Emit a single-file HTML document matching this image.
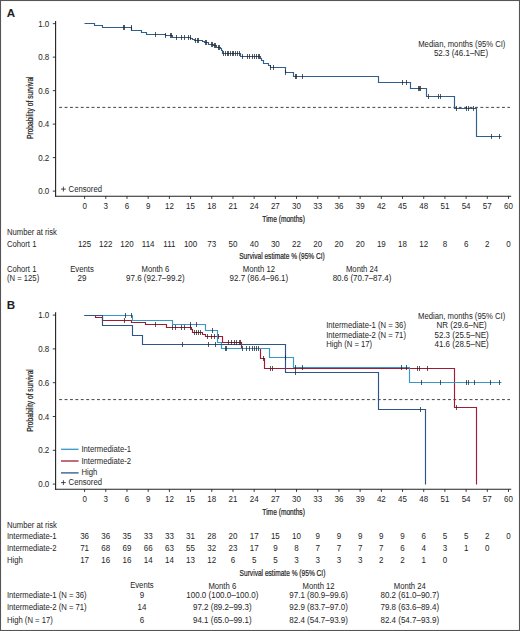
<!DOCTYPE html>
<html><head><meta charset="utf-8"><title>Survival</title>
<style>
html,body{margin:0;padding:0;background:#fff;}
body{width:520px;height:631px;overflow:hidden;}
svg{display:block;font-family:"Liberation Sans", sans-serif;fill:#222;}
svg text{fill:#1e1e1e;}
svg text.ct{stroke:#1e1e1e;stroke-width:0.22px;}
</style></head><body>
<svg width="520" height="631" viewBox="0 0 520 631">
<rect x="0" y="0" width="520" height="631" fill="#fff"/>
<rect x="0.5" y="0.5" width="519" height="630" fill="none" stroke="#555" stroke-width="1.1"/>
<text x="6.8" y="16.8" font-size="11.6" text-anchor="start" font-weight="bold">A</text>
<line x1="55.6" y1="21" x2="55.6" y2="196.7" stroke="#222" stroke-width="1.1" />
<line x1="55.1" y1="196.2" x2="511.2" y2="196.2" stroke="#222" stroke-width="1.1" />
<line x1="52.8" y1="23.65" x2="55.6" y2="23.65" stroke="#222" stroke-width="0.9" />
<text transform="translate(49.3,26.65) scale(0.9639,1)" font-size="8.3" text-anchor="end" >1.0</text>
<line x1="52.8" y1="57.14" x2="55.6" y2="57.14" stroke="#222" stroke-width="0.9" />
<text transform="translate(49.3,60.14) scale(0.9639,1)" font-size="8.3" text-anchor="end" >0.8</text>
<line x1="52.8" y1="90.63" x2="55.6" y2="90.63" stroke="#222" stroke-width="0.9" />
<text transform="translate(49.3,93.63) scale(0.9639,1)" font-size="8.3" text-anchor="end" >0.6</text>
<line x1="52.8" y1="124.12" x2="55.6" y2="124.12" stroke="#222" stroke-width="0.9" />
<text transform="translate(49.3,127.12) scale(0.9639,1)" font-size="8.3" text-anchor="end" >0.4</text>
<line x1="52.8" y1="157.61" x2="55.6" y2="157.61" stroke="#222" stroke-width="0.9" />
<text transform="translate(49.3,160.61) scale(0.9639,1)" font-size="8.3" text-anchor="end" >0.2</text>
<line x1="52.8" y1="191.1" x2="55.6" y2="191.1" stroke="#222" stroke-width="0.9" />
<text transform="translate(49.3,194.1) scale(0.9639,1)" font-size="8.3" text-anchor="end" >0.0</text>
<line x1="84.6" y1="196.2" x2="84.6" y2="198.9" stroke="#222" stroke-width="0.9" />
<text transform="translate(84.6,208.6) scale(0.9639,1)" font-size="8.3" text-anchor="middle" >0</text>
<line x1="105.79" y1="196.2" x2="105.79" y2="198.9" stroke="#222" stroke-width="0.9" />
<text transform="translate(105.79,208.6) scale(0.9639,1)" font-size="8.3" text-anchor="middle" >3</text>
<line x1="126.99" y1="196.2" x2="126.99" y2="198.9" stroke="#222" stroke-width="0.9" />
<text transform="translate(126.99,208.6) scale(0.9639,1)" font-size="8.3" text-anchor="middle" >6</text>
<line x1="148.19" y1="196.2" x2="148.19" y2="198.9" stroke="#222" stroke-width="0.9" />
<text transform="translate(148.19,208.6) scale(0.9639,1)" font-size="8.3" text-anchor="middle" >9</text>
<line x1="169.38" y1="196.2" x2="169.38" y2="198.9" stroke="#222" stroke-width="0.9" />
<text transform="translate(169.38,208.6) scale(0.9639,1)" font-size="8.3" text-anchor="middle" >12</text>
<line x1="190.57" y1="196.2" x2="190.57" y2="198.9" stroke="#222" stroke-width="0.9" />
<text transform="translate(190.57,208.6) scale(0.9639,1)" font-size="8.3" text-anchor="middle" >15</text>
<line x1="211.77" y1="196.2" x2="211.77" y2="198.9" stroke="#222" stroke-width="0.9" />
<text transform="translate(211.77,208.6) scale(0.9639,1)" font-size="8.3" text-anchor="middle" >18</text>
<line x1="232.97" y1="196.2" x2="232.97" y2="198.9" stroke="#222" stroke-width="0.9" />
<text transform="translate(232.97,208.6) scale(0.9639,1)" font-size="8.3" text-anchor="middle" >21</text>
<line x1="254.16" y1="196.2" x2="254.16" y2="198.9" stroke="#222" stroke-width="0.9" />
<text transform="translate(254.16,208.6) scale(0.9639,1)" font-size="8.3" text-anchor="middle" >24</text>
<line x1="275.36" y1="196.2" x2="275.36" y2="198.9" stroke="#222" stroke-width="0.9" />
<text transform="translate(275.36,208.6) scale(0.9639,1)" font-size="8.3" text-anchor="middle" >27</text>
<line x1="296.55" y1="196.2" x2="296.55" y2="198.9" stroke="#222" stroke-width="0.9" />
<text transform="translate(296.55,208.6) scale(0.9639,1)" font-size="8.3" text-anchor="middle" >30</text>
<line x1="317.75" y1="196.2" x2="317.75" y2="198.9" stroke="#222" stroke-width="0.9" />
<text transform="translate(317.75,208.6) scale(0.9639,1)" font-size="8.3" text-anchor="middle" >33</text>
<line x1="338.94" y1="196.2" x2="338.94" y2="198.9" stroke="#222" stroke-width="0.9" />
<text transform="translate(338.94,208.6) scale(0.9639,1)" font-size="8.3" text-anchor="middle" >36</text>
<line x1="360.13" y1="196.2" x2="360.13" y2="198.9" stroke="#222" stroke-width="0.9" />
<text transform="translate(360.13,208.6) scale(0.9639,1)" font-size="8.3" text-anchor="middle" >39</text>
<line x1="381.33" y1="196.2" x2="381.33" y2="198.9" stroke="#222" stroke-width="0.9" />
<text transform="translate(381.33,208.6) scale(0.9639,1)" font-size="8.3" text-anchor="middle" >42</text>
<line x1="402.52" y1="196.2" x2="402.52" y2="198.9" stroke="#222" stroke-width="0.9" />
<text transform="translate(402.52,208.6) scale(0.9639,1)" font-size="8.3" text-anchor="middle" >45</text>
<line x1="423.72" y1="196.2" x2="423.72" y2="198.9" stroke="#222" stroke-width="0.9" />
<text transform="translate(423.72,208.6) scale(0.9639,1)" font-size="8.3" text-anchor="middle" >48</text>
<line x1="444.91" y1="196.2" x2="444.91" y2="198.9" stroke="#222" stroke-width="0.9" />
<text transform="translate(444.91,208.6) scale(0.9639,1)" font-size="8.3" text-anchor="middle" >51</text>
<line x1="466.11" y1="196.2" x2="466.11" y2="198.9" stroke="#222" stroke-width="0.9" />
<text transform="translate(466.11,208.6) scale(0.9639,1)" font-size="8.3" text-anchor="middle" >54</text>
<line x1="487.3" y1="196.2" x2="487.3" y2="198.9" stroke="#222" stroke-width="0.9" />
<text transform="translate(487.3,208.6) scale(0.9639,1)" font-size="8.3" text-anchor="middle" >57</text>
<line x1="508.5" y1="196.2" x2="508.5" y2="198.9" stroke="#222" stroke-width="0.9" />
<text transform="translate(508.5,208.6) scale(0.9639,1)" font-size="8.3" text-anchor="middle" >60</text>
<text x="283.6" y="221.6" font-size="8.4" text-anchor="middle" textLength="42.5" lengthAdjust="spacingAndGlyphs" class="ct">Time (months)</text>
<text x="0" y="0" font-size="8.4" text-anchor="middle" textLength="62.6" lengthAdjust="spacingAndGlyphs" class="ct" transform="translate(33.2,107.7) rotate(-90)">Probability of survival</text>
<line x1="59.2" y1="107.375" x2="510" y2="107.375" stroke="#444" stroke-width="1" stroke-dasharray="2.9 2.5"/>
<path d="M84.5,23.5H94.5V25.5H102.5V27.5H131.5V30.5H141.5V32.5H146.5V34.5H165.5V35.5H172.5V37.5H190.5V38.5H192.5V39.5H194.5V40.5H202.5V41.5H204.5V42.5H208.5V44.5H213.5V45.5H216.5V47.5H220.5V48.5H221.5V50.5H222.5V53.5H240.5V56.5H260.5V58.5H261.5V60.5H263.5V63.5H268.5V65.5H270.5V67.5H285.5V72.5H293.5V76.5H378.5V82.5H410.5V88.5H426.5V96.5H454.5V108.5H476.5V136.5H501.5" fill="none" stroke="#2f5f8c" stroke-width="1.15" stroke-linejoin="miter"/>
<line x1="123.5" y1="25" x2="123.5" y2="30" stroke="#222" stroke-width="0.75" />
<line x1="124.5" y1="25" x2="124.5" y2="30" stroke="#222" stroke-width="0.75" />
<line x1="131.5" y1="25" x2="131.5" y2="30" stroke="#222" stroke-width="0.75" />
<line x1="155.5" y1="32" x2="155.5" y2="37" stroke="#222" stroke-width="0.75" />
<line x1="165.5" y1="33" x2="165.5" y2="38" stroke="#222" stroke-width="0.75" />
<line x1="170.5" y1="33" x2="170.5" y2="38" stroke="#222" stroke-width="0.75" />
<line x1="171.5" y1="33" x2="171.5" y2="38" stroke="#222" stroke-width="0.75" />
<line x1="176.5" y1="35" x2="176.5" y2="40" stroke="#222" stroke-width="0.75" />
<line x1="181.5" y1="35" x2="181.5" y2="40" stroke="#222" stroke-width="0.75" />
<line x1="184.5" y1="35" x2="184.5" y2="40" stroke="#222" stroke-width="0.75" />
<line x1="188.5" y1="35" x2="188.5" y2="40" stroke="#222" stroke-width="0.75" />
<line x1="190.5" y1="35" x2="190.5" y2="40" stroke="#222" stroke-width="0.75" />
<line x1="195.5" y1="38" x2="195.5" y2="43" stroke="#222" stroke-width="0.75" />
<line x1="197.5" y1="38" x2="197.5" y2="43" stroke="#222" stroke-width="0.75" />
<line x1="198.5" y1="38" x2="198.5" y2="43" stroke="#222" stroke-width="0.75" />
<line x1="205.5" y1="40" x2="205.5" y2="45" stroke="#222" stroke-width="0.75" />
<line x1="206.5" y1="40" x2="206.5" y2="45" stroke="#222" stroke-width="0.75" />
<line x1="211.5" y1="42" x2="211.5" y2="47" stroke="#222" stroke-width="0.75" />
<line x1="212.5" y1="42" x2="212.5" y2="47" stroke="#222" stroke-width="0.75" />
<line x1="214.5" y1="43" x2="214.5" y2="48" stroke="#222" stroke-width="0.75" />
<line x1="215.5" y1="43" x2="215.5" y2="48" stroke="#222" stroke-width="0.75" />
<line x1="218.5" y1="45" x2="218.5" y2="50" stroke="#222" stroke-width="0.75" />
<line x1="219.5" y1="45" x2="219.5" y2="50" stroke="#222" stroke-width="0.75" />
<line x1="223.5" y1="51" x2="223.5" y2="56" stroke="#222" stroke-width="0.75" />
<line x1="225.5" y1="51" x2="225.5" y2="56" stroke="#222" stroke-width="0.75" />
<line x1="227.5" y1="51" x2="227.5" y2="56" stroke="#222" stroke-width="0.75" />
<line x1="228.5" y1="51" x2="228.5" y2="56" stroke="#222" stroke-width="0.75" />
<line x1="230.5" y1="51" x2="230.5" y2="56" stroke="#222" stroke-width="0.75" />
<line x1="232.5" y1="51" x2="232.5" y2="56" stroke="#222" stroke-width="0.75" />
<line x1="233.5" y1="51" x2="233.5" y2="56" stroke="#222" stroke-width="0.75" />
<line x1="235.5" y1="51" x2="235.5" y2="56" stroke="#222" stroke-width="0.75" />
<line x1="237.5" y1="51" x2="237.5" y2="56" stroke="#222" stroke-width="0.75" />
<line x1="239.5" y1="51" x2="239.5" y2="56" stroke="#222" stroke-width="0.75" />
<line x1="242.5" y1="54" x2="242.5" y2="59" stroke="#222" stroke-width="0.75" />
<line x1="247.5" y1="54" x2="247.5" y2="59" stroke="#222" stroke-width="0.75" />
<line x1="249.5" y1="54" x2="249.5" y2="59" stroke="#222" stroke-width="0.75" />
<line x1="252.5" y1="54" x2="252.5" y2="59" stroke="#222" stroke-width="0.75" />
<line x1="254.5" y1="54" x2="254.5" y2="59" stroke="#222" stroke-width="0.75" />
<line x1="256.5" y1="54" x2="256.5" y2="59" stroke="#222" stroke-width="0.75" />
<line x1="258.5" y1="54" x2="258.5" y2="59" stroke="#222" stroke-width="0.75" />
<line x1="259.5" y1="54" x2="259.5" y2="59" stroke="#222" stroke-width="0.75" />
<line x1="270.5" y1="65" x2="270.5" y2="70" stroke="#222" stroke-width="0.75" />
<line x1="273.5" y1="65" x2="273.5" y2="70" stroke="#222" stroke-width="0.75" />
<line x1="285.5" y1="70" x2="285.5" y2="75" stroke="#222" stroke-width="0.75" />
<line x1="295.5" y1="74" x2="295.5" y2="79" stroke="#222" stroke-width="0.75" />
<line x1="296.5" y1="74" x2="296.5" y2="79" stroke="#222" stroke-width="0.75" />
<line x1="302.5" y1="74" x2="302.5" y2="79" stroke="#222" stroke-width="0.75" />
<line x1="402.5" y1="80" x2="402.5" y2="85" stroke="#222" stroke-width="0.75" />
<line x1="406.5" y1="80" x2="406.5" y2="85" stroke="#222" stroke-width="0.75" />
<line x1="418.5" y1="86" x2="418.5" y2="91" stroke="#222" stroke-width="0.75" />
<line x1="419.5" y1="86" x2="419.5" y2="91" stroke="#222" stroke-width="0.75" />
<line x1="420.5" y1="86" x2="420.5" y2="91" stroke="#222" stroke-width="0.75" />
<line x1="428.5" y1="94" x2="428.5" y2="99" stroke="#222" stroke-width="0.75" />
<line x1="438.5" y1="94" x2="438.5" y2="99" stroke="#222" stroke-width="0.75" />
<line x1="440.5" y1="94" x2="440.5" y2="99" stroke="#222" stroke-width="0.75" />
<line x1="456.5" y1="106" x2="456.5" y2="111" stroke="#222" stroke-width="0.75" />
<line x1="466.5" y1="106" x2="466.5" y2="111" stroke="#222" stroke-width="0.75" />
<line x1="468.5" y1="106" x2="468.5" y2="111" stroke="#222" stroke-width="0.75" />
<line x1="473.5" y1="106" x2="473.5" y2="111" stroke="#222" stroke-width="0.75" />
<line x1="491.5" y1="134" x2="491.5" y2="139" stroke="#222" stroke-width="0.75" />
<line x1="499.5" y1="134" x2="499.5" y2="139" stroke="#222" stroke-width="0.75" />
<line x1="61" y1="189.1" x2="65.8" y2="189.1" stroke="#222" stroke-width="0.8" />
<line x1="63.4" y1="186.7" x2="63.4" y2="191.5" stroke="#222" stroke-width="0.8" />
<text transform="translate(68.6,191.6) scale(0.9277,1)" font-size="8.3" text-anchor="start" >Censored</text>
<text transform="translate(461.8,46.9) scale(0.9277,1)" font-size="8.3" text-anchor="middle" >Median, months (95% CI)</text>
<text transform="translate(461,56.4) scale(0.9639,1)" font-size="8.3" text-anchor="middle" >52.3 (46.1–NE)</text>
<text transform="translate(6.9,234.5) scale(0.9277,1)" font-size="8.3" text-anchor="start" >Number at risk</text>
<text transform="translate(6.9,246.5) scale(0.9277,1)" font-size="8.3" text-anchor="start" >Cohort 1</text>
<text transform="translate(84.6,246.5) scale(0.9639,1)" font-size="8.3" text-anchor="middle" >125</text>
<text transform="translate(105.79,246.5) scale(0.9639,1)" font-size="8.3" text-anchor="middle" >122</text>
<text transform="translate(126.99,246.5) scale(0.9639,1)" font-size="8.3" text-anchor="middle" >120</text>
<text transform="translate(148.19,246.5) scale(0.9639,1)" font-size="8.3" text-anchor="middle" >114</text>
<text transform="translate(169.38,246.5) scale(0.9639,1)" font-size="8.3" text-anchor="middle" >111</text>
<text transform="translate(190.57,246.5) scale(0.9639,1)" font-size="8.3" text-anchor="middle" >100</text>
<text transform="translate(211.77,246.5) scale(0.9639,1)" font-size="8.3" text-anchor="middle" >73</text>
<text transform="translate(232.97,246.5) scale(0.9639,1)" font-size="8.3" text-anchor="middle" >50</text>
<text transform="translate(254.16,246.5) scale(0.9639,1)" font-size="8.3" text-anchor="middle" >40</text>
<text transform="translate(275.36,246.5) scale(0.9639,1)" font-size="8.3" text-anchor="middle" >30</text>
<text transform="translate(296.55,246.5) scale(0.9639,1)" font-size="8.3" text-anchor="middle" >22</text>
<text transform="translate(317.75,246.5) scale(0.9639,1)" font-size="8.3" text-anchor="middle" >20</text>
<text transform="translate(338.94,246.5) scale(0.9639,1)" font-size="8.3" text-anchor="middle" >20</text>
<text transform="translate(360.13,246.5) scale(0.9639,1)" font-size="8.3" text-anchor="middle" >20</text>
<text transform="translate(381.33,246.5) scale(0.9639,1)" font-size="8.3" text-anchor="middle" >19</text>
<text transform="translate(402.52,246.5) scale(0.9639,1)" font-size="8.3" text-anchor="middle" >18</text>
<text transform="translate(423.72,246.5) scale(0.9639,1)" font-size="8.3" text-anchor="middle" >12</text>
<text transform="translate(444.91,246.5) scale(0.9639,1)" font-size="8.3" text-anchor="middle" >8</text>
<text transform="translate(466.11,246.5) scale(0.9639,1)" font-size="8.3" text-anchor="middle" >6</text>
<text transform="translate(487.3,246.5) scale(0.9639,1)" font-size="8.3" text-anchor="middle" >2</text>
<text transform="translate(508.5,246.5) scale(0.9639,1)" font-size="8.3" text-anchor="middle" >0</text>
<text x="282" y="259.4" font-size="9.4" text-anchor="middle" textLength="85.6" lengthAdjust="spacingAndGlyphs" class="ct">Survival estimate % (95% CI)</text>
<text transform="translate(6.9,271.9) scale(0.9277,1)" font-size="8.3" text-anchor="start" >Cohort 1</text>
<text transform="translate(6.9,280.9) scale(0.9277,1)" font-size="8.3" text-anchor="start" >(N = 125)</text>
<text transform="translate(82,271.9) scale(0.9277,1)" font-size="8.3" text-anchor="middle" >Events</text>
<text transform="translate(82,280.9) scale(0.9639,1)" font-size="8.3" text-anchor="middle" >29</text>
<text transform="translate(155.4,271.9) scale(0.9277,1)" font-size="8.3" text-anchor="middle" >Month 6</text>
<text transform="translate(155.4,280.9) scale(0.9639,1)" font-size="8.3" text-anchor="middle" >97.6 (92.7–99.2)</text>
<text transform="translate(258.9,271.9) scale(0.9277,1)" font-size="8.3" text-anchor="middle" >Month 12</text>
<text transform="translate(258.9,280.9) scale(0.9639,1)" font-size="8.3" text-anchor="middle" >92.7 (86.4–96.1)</text>
<text transform="translate(362,271.9) scale(0.9277,1)" font-size="8.3" text-anchor="middle" >Month 24</text>
<text transform="translate(362,280.9) scale(0.9639,1)" font-size="8.3" text-anchor="middle" >80.6 (70.7–87.4)</text>
<text x="6.8" y="308.6" font-size="11.6" text-anchor="start" font-weight="bold">B</text>
<line x1="55.6" y1="312.2" x2="55.6" y2="489.7" stroke="#222" stroke-width="1.1" />
<line x1="55.1" y1="489.2" x2="511.2" y2="489.2" stroke="#222" stroke-width="1.1" />
<line x1="52.8" y1="315.1" x2="55.6" y2="315.1" stroke="#222" stroke-width="0.9" />
<text transform="translate(49.3,318.1) scale(0.9639,1)" font-size="8.3" text-anchor="end" >1.0</text>
<line x1="52.8" y1="348.9" x2="55.6" y2="348.9" stroke="#222" stroke-width="0.9" />
<text transform="translate(49.3,351.9) scale(0.9639,1)" font-size="8.3" text-anchor="end" >0.8</text>
<line x1="52.8" y1="382.7" x2="55.6" y2="382.7" stroke="#222" stroke-width="0.9" />
<text transform="translate(49.3,385.7) scale(0.9639,1)" font-size="8.3" text-anchor="end" >0.6</text>
<line x1="52.8" y1="416.5" x2="55.6" y2="416.5" stroke="#222" stroke-width="0.9" />
<text transform="translate(49.3,419.5) scale(0.9639,1)" font-size="8.3" text-anchor="end" >0.4</text>
<line x1="52.8" y1="450.3" x2="55.6" y2="450.3" stroke="#222" stroke-width="0.9" />
<text transform="translate(49.3,453.3) scale(0.9639,1)" font-size="8.3" text-anchor="end" >0.2</text>
<line x1="52.8" y1="484.1" x2="55.6" y2="484.1" stroke="#222" stroke-width="0.9" />
<text transform="translate(49.3,487.1) scale(0.9639,1)" font-size="8.3" text-anchor="end" >0.0</text>
<line x1="84.6" y1="489.2" x2="84.6" y2="491.9" stroke="#222" stroke-width="0.9" />
<text transform="translate(84.6,501.6) scale(0.9639,1)" font-size="8.3" text-anchor="middle" >0</text>
<line x1="105.79" y1="489.2" x2="105.79" y2="491.9" stroke="#222" stroke-width="0.9" />
<text transform="translate(105.79,501.6) scale(0.9639,1)" font-size="8.3" text-anchor="middle" >3</text>
<line x1="126.99" y1="489.2" x2="126.99" y2="491.9" stroke="#222" stroke-width="0.9" />
<text transform="translate(126.99,501.6) scale(0.9639,1)" font-size="8.3" text-anchor="middle" >6</text>
<line x1="148.19" y1="489.2" x2="148.19" y2="491.9" stroke="#222" stroke-width="0.9" />
<text transform="translate(148.19,501.6) scale(0.9639,1)" font-size="8.3" text-anchor="middle" >9</text>
<line x1="169.38" y1="489.2" x2="169.38" y2="491.9" stroke="#222" stroke-width="0.9" />
<text transform="translate(169.38,501.6) scale(0.9639,1)" font-size="8.3" text-anchor="middle" >12</text>
<line x1="190.57" y1="489.2" x2="190.57" y2="491.9" stroke="#222" stroke-width="0.9" />
<text transform="translate(190.57,501.6) scale(0.9639,1)" font-size="8.3" text-anchor="middle" >15</text>
<line x1="211.77" y1="489.2" x2="211.77" y2="491.9" stroke="#222" stroke-width="0.9" />
<text transform="translate(211.77,501.6) scale(0.9639,1)" font-size="8.3" text-anchor="middle" >18</text>
<line x1="232.97" y1="489.2" x2="232.97" y2="491.9" stroke="#222" stroke-width="0.9" />
<text transform="translate(232.97,501.6) scale(0.9639,1)" font-size="8.3" text-anchor="middle" >21</text>
<line x1="254.16" y1="489.2" x2="254.16" y2="491.9" stroke="#222" stroke-width="0.9" />
<text transform="translate(254.16,501.6) scale(0.9639,1)" font-size="8.3" text-anchor="middle" >24</text>
<line x1="275.36" y1="489.2" x2="275.36" y2="491.9" stroke="#222" stroke-width="0.9" />
<text transform="translate(275.36,501.6) scale(0.9639,1)" font-size="8.3" text-anchor="middle" >27</text>
<line x1="296.55" y1="489.2" x2="296.55" y2="491.9" stroke="#222" stroke-width="0.9" />
<text transform="translate(296.55,501.6) scale(0.9639,1)" font-size="8.3" text-anchor="middle" >30</text>
<line x1="317.75" y1="489.2" x2="317.75" y2="491.9" stroke="#222" stroke-width="0.9" />
<text transform="translate(317.75,501.6) scale(0.9639,1)" font-size="8.3" text-anchor="middle" >33</text>
<line x1="338.94" y1="489.2" x2="338.94" y2="491.9" stroke="#222" stroke-width="0.9" />
<text transform="translate(338.94,501.6) scale(0.9639,1)" font-size="8.3" text-anchor="middle" >36</text>
<line x1="360.13" y1="489.2" x2="360.13" y2="491.9" stroke="#222" stroke-width="0.9" />
<text transform="translate(360.13,501.6) scale(0.9639,1)" font-size="8.3" text-anchor="middle" >39</text>
<line x1="381.33" y1="489.2" x2="381.33" y2="491.9" stroke="#222" stroke-width="0.9" />
<text transform="translate(381.33,501.6) scale(0.9639,1)" font-size="8.3" text-anchor="middle" >42</text>
<line x1="402.52" y1="489.2" x2="402.52" y2="491.9" stroke="#222" stroke-width="0.9" />
<text transform="translate(402.52,501.6) scale(0.9639,1)" font-size="8.3" text-anchor="middle" >45</text>
<line x1="423.72" y1="489.2" x2="423.72" y2="491.9" stroke="#222" stroke-width="0.9" />
<text transform="translate(423.72,501.6) scale(0.9639,1)" font-size="8.3" text-anchor="middle" >48</text>
<line x1="444.91" y1="489.2" x2="444.91" y2="491.9" stroke="#222" stroke-width="0.9" />
<text transform="translate(444.91,501.6) scale(0.9639,1)" font-size="8.3" text-anchor="middle" >51</text>
<line x1="466.11" y1="489.2" x2="466.11" y2="491.9" stroke="#222" stroke-width="0.9" />
<text transform="translate(466.11,501.6) scale(0.9639,1)" font-size="8.3" text-anchor="middle" >54</text>
<line x1="487.3" y1="489.2" x2="487.3" y2="491.9" stroke="#222" stroke-width="0.9" />
<text transform="translate(487.3,501.6) scale(0.9639,1)" font-size="8.3" text-anchor="middle" >57</text>
<line x1="508.5" y1="489.2" x2="508.5" y2="491.9" stroke="#222" stroke-width="0.9" />
<text transform="translate(508.5,501.6) scale(0.9639,1)" font-size="8.3" text-anchor="middle" >60</text>
<text x="283.6" y="514.6" font-size="8.4" text-anchor="middle" textLength="42.5" lengthAdjust="spacingAndGlyphs" class="ct">Time (months)</text>
<text x="0" y="0" font-size="8.4" text-anchor="middle" textLength="62.6" lengthAdjust="spacingAndGlyphs" class="ct" transform="translate(33.2,400.5) rotate(-90)">Probability of survival</text>
<line x1="59.2" y1="399.6" x2="510" y2="399.6" stroke="#444" stroke-width="1" stroke-dasharray="2.9 2.5"/>
<path d="M84.5,315.5H95.5V317.5H102.5V320.5H131.5V322.5H145.5V324.5H166.5V327.5H191.5V329.5H192.5V332.5H202.5V334.5H205.5V336.5H222.5V342.5H241.5V348.5H260.5V358.5H264.5V368.5H454.5V407.5H476.5V484.5H476.5" fill="none" stroke="#a31a34" stroke-width="1.15" stroke-linejoin="miter"/>
<path d="M84.5,315.5H132.5V320.5H172.5V324.5H205.5V330.5H217.5V342.5H221.5V348.5H269.5V357.5H293.5V367.5H409.5V382.5H501.5" fill="none" stroke="#3599cb" stroke-width="1.15" stroke-linejoin="miter"/>
<path d="M84.5,315.5H102.5V325.5H132.5V335.5H142.5V344.5H285.5V372.5H378.5V409.5H425.5V484.5H425.5" fill="none" stroke="#2c5689" stroke-width="1.15" stroke-linejoin="miter"/>
<line x1="125.5" y1="313" x2="125.5" y2="318" stroke="#222" stroke-width="0.75" />
<line x1="131.5" y1="313" x2="131.5" y2="318" stroke="#222" stroke-width="0.75" />
<line x1="190.5" y1="322" x2="190.5" y2="327" stroke="#222" stroke-width="0.75" />
<line x1="196.5" y1="322" x2="196.5" y2="327" stroke="#222" stroke-width="0.75" />
<line x1="212.5" y1="328" x2="212.5" y2="333" stroke="#222" stroke-width="0.75" />
<line x1="225.5" y1="346" x2="225.5" y2="351" stroke="#222" stroke-width="0.75" />
<line x1="226.5" y1="346" x2="226.5" y2="351" stroke="#222" stroke-width="0.75" />
<line x1="242.5" y1="346" x2="242.5" y2="351" stroke="#222" stroke-width="0.75" />
<line x1="246.5" y1="346" x2="246.5" y2="351" stroke="#222" stroke-width="0.75" />
<line x1="249.5" y1="346" x2="249.5" y2="351" stroke="#222" stroke-width="0.75" />
<line x1="252.5" y1="346" x2="252.5" y2="351" stroke="#222" stroke-width="0.75" />
<line x1="254.5" y1="346" x2="254.5" y2="351" stroke="#222" stroke-width="0.75" />
<line x1="256.5" y1="346" x2="256.5" y2="351" stroke="#222" stroke-width="0.75" />
<line x1="258.5" y1="346" x2="258.5" y2="351" stroke="#222" stroke-width="0.75" />
<line x1="285.5" y1="355" x2="285.5" y2="360" stroke="#222" stroke-width="0.75" />
<line x1="295.5" y1="365" x2="295.5" y2="370" stroke="#222" stroke-width="0.75" />
<line x1="302.5" y1="365" x2="302.5" y2="370" stroke="#222" stroke-width="0.75" />
<line x1="401.5" y1="365" x2="401.5" y2="370" stroke="#222" stroke-width="0.75" />
<line x1="406.5" y1="365" x2="406.5" y2="370" stroke="#222" stroke-width="0.75" />
<line x1="421.5" y1="380" x2="421.5" y2="385" stroke="#222" stroke-width="0.75" />
<line x1="440.5" y1="380" x2="440.5" y2="385" stroke="#222" stroke-width="0.75" />
<line x1="466.5" y1="380" x2="466.5" y2="385" stroke="#222" stroke-width="0.75" />
<line x1="468.5" y1="380" x2="468.5" y2="385" stroke="#222" stroke-width="0.75" />
<line x1="474.5" y1="380" x2="474.5" y2="385" stroke="#222" stroke-width="0.75" />
<line x1="490.5" y1="380" x2="490.5" y2="385" stroke="#222" stroke-width="0.75" />
<line x1="499.5" y1="380" x2="499.5" y2="385" stroke="#222" stroke-width="0.75" />
<line x1="124.5" y1="318" x2="124.5" y2="323" stroke="#222" stroke-width="0.75" />
<line x1="155.5" y1="322" x2="155.5" y2="327" stroke="#222" stroke-width="0.75" />
<line x1="172.5" y1="325" x2="172.5" y2="330" stroke="#222" stroke-width="0.75" />
<line x1="175.5" y1="325" x2="175.5" y2="330" stroke="#222" stroke-width="0.75" />
<line x1="181.5" y1="325" x2="181.5" y2="330" stroke="#222" stroke-width="0.75" />
<line x1="184.5" y1="325" x2="184.5" y2="330" stroke="#222" stroke-width="0.75" />
<line x1="190.5" y1="325" x2="190.5" y2="330" stroke="#222" stroke-width="0.75" />
<line x1="194.5" y1="330" x2="194.5" y2="335" stroke="#222" stroke-width="0.75" />
<line x1="196.5" y1="330" x2="196.5" y2="335" stroke="#222" stroke-width="0.75" />
<line x1="198.5" y1="330" x2="198.5" y2="335" stroke="#222" stroke-width="0.75" />
<line x1="200.5" y1="330" x2="200.5" y2="335" stroke="#222" stroke-width="0.75" />
<line x1="207.5" y1="334" x2="207.5" y2="339" stroke="#222" stroke-width="0.75" />
<line x1="211.5" y1="334" x2="211.5" y2="339" stroke="#222" stroke-width="0.75" />
<line x1="214.5" y1="334" x2="214.5" y2="339" stroke="#222" stroke-width="0.75" />
<line x1="218.5" y1="334" x2="218.5" y2="339" stroke="#222" stroke-width="0.75" />
<line x1="228.5" y1="340" x2="228.5" y2="345" stroke="#222" stroke-width="0.75" />
<line x1="231.5" y1="340" x2="231.5" y2="345" stroke="#222" stroke-width="0.75" />
<line x1="234.5" y1="340" x2="234.5" y2="345" stroke="#222" stroke-width="0.75" />
<line x1="236.5" y1="340" x2="236.5" y2="345" stroke="#222" stroke-width="0.75" />
<line x1="239.5" y1="340" x2="239.5" y2="345" stroke="#222" stroke-width="0.75" />
<line x1="240.5" y1="340" x2="240.5" y2="345" stroke="#222" stroke-width="0.75" />
<line x1="263.5" y1="356" x2="263.5" y2="361" stroke="#222" stroke-width="0.75" />
<line x1="270.5" y1="366" x2="270.5" y2="371" stroke="#222" stroke-width="0.75" />
<line x1="272.5" y1="366" x2="272.5" y2="371" stroke="#222" stroke-width="0.75" />
<line x1="417.5" y1="366" x2="417.5" y2="371" stroke="#222" stroke-width="0.75" />
<line x1="419.5" y1="366" x2="419.5" y2="371" stroke="#222" stroke-width="0.75" />
<line x1="427.5" y1="366" x2="427.5" y2="371" stroke="#222" stroke-width="0.75" />
<line x1="456.5" y1="405" x2="456.5" y2="410" stroke="#222" stroke-width="0.75" />
<line x1="182.5" y1="342" x2="182.5" y2="347" stroke="#222" stroke-width="0.75" />
<line x1="208.5" y1="342" x2="208.5" y2="347" stroke="#222" stroke-width="0.75" />
<line x1="215.5" y1="342" x2="215.5" y2="347" stroke="#222" stroke-width="0.75" />
<line x1="295.5" y1="370" x2="295.5" y2="375" stroke="#222" stroke-width="0.75" />
<line x1="420.5" y1="407" x2="420.5" y2="412" stroke="#222" stroke-width="0.75" />
<line x1="61" y1="449.3" x2="78.6" y2="449.3" stroke="#3599cb" stroke-width="1.3" />
<text transform="translate(81.4,451.8) scale(0.9277,1)" font-size="8.3" text-anchor="start" >Intermediate-1</text>
<line x1="61" y1="461" x2="78.6" y2="461" stroke="#a31a34" stroke-width="1.3" />
<text transform="translate(81.4,463.5) scale(0.9277,1)" font-size="8.3" text-anchor="start" >Intermediate-2</text>
<line x1="61" y1="472.9" x2="78.6" y2="472.9" stroke="#2c5689" stroke-width="1.3" />
<text transform="translate(81.4,475.4) scale(0.9277,1)" font-size="8.3" text-anchor="start" >High</text>
<line x1="61" y1="482.6" x2="65.8" y2="482.6" stroke="#222" stroke-width="0.8" />
<line x1="63.4" y1="480.2" x2="63.4" y2="485" stroke="#222" stroke-width="0.8" />
<text transform="translate(68.6,485.1) scale(0.9277,1)" font-size="8.3" text-anchor="start" >Censored</text>
<text transform="translate(326.2,328) scale(0.9277,1)" font-size="8.3" text-anchor="start" >Intermediate-1 (N = 36)</text>
<text transform="translate(326.2,337.7) scale(0.9277,1)" font-size="8.3" text-anchor="start" >Intermediate-2 (N = 71)</text>
<text transform="translate(326.2,347.3) scale(0.9277,1)" font-size="8.3" text-anchor="start" >High (N = 17)</text>
<text transform="translate(461.6,318.8) scale(0.9277,1)" font-size="8.3" text-anchor="middle" >Median, months (95% CI)</text>
<text transform="translate(461.6,328) scale(0.9639,1)" font-size="8.3" text-anchor="middle" >NR (29.6–NE)</text>
<text transform="translate(461.6,337.7) scale(0.9639,1)" font-size="8.3" text-anchor="middle" >52.3 (25.5–NE)</text>
<text transform="translate(461.6,347.3) scale(0.9639,1)" font-size="8.3" text-anchor="middle" >41.6 (28.5–NE)</text>
<text transform="translate(6.9,527.7) scale(0.9277,1)" font-size="8.3" text-anchor="start" >Number at risk</text>
<text transform="translate(6.9,539.3) scale(0.9277,1)" font-size="8.3" text-anchor="start" >Intermediate-1</text>
<text transform="translate(84.6,539.3) scale(0.9639,1)" font-size="8.3" text-anchor="middle" >36</text>
<text transform="translate(105.79,539.3) scale(0.9639,1)" font-size="8.3" text-anchor="middle" >36</text>
<text transform="translate(126.99,539.3) scale(0.9639,1)" font-size="8.3" text-anchor="middle" >35</text>
<text transform="translate(148.19,539.3) scale(0.9639,1)" font-size="8.3" text-anchor="middle" >33</text>
<text transform="translate(169.38,539.3) scale(0.9639,1)" font-size="8.3" text-anchor="middle" >33</text>
<text transform="translate(190.57,539.3) scale(0.9639,1)" font-size="8.3" text-anchor="middle" >31</text>
<text transform="translate(211.77,539.3) scale(0.9639,1)" font-size="8.3" text-anchor="middle" >28</text>
<text transform="translate(232.97,539.3) scale(0.9639,1)" font-size="8.3" text-anchor="middle" >20</text>
<text transform="translate(254.16,539.3) scale(0.9639,1)" font-size="8.3" text-anchor="middle" >17</text>
<text transform="translate(275.36,539.3) scale(0.9639,1)" font-size="8.3" text-anchor="middle" >15</text>
<text transform="translate(296.55,539.3) scale(0.9639,1)" font-size="8.3" text-anchor="middle" >10</text>
<text transform="translate(317.75,539.3) scale(0.9639,1)" font-size="8.3" text-anchor="middle" >9</text>
<text transform="translate(338.94,539.3) scale(0.9639,1)" font-size="8.3" text-anchor="middle" >9</text>
<text transform="translate(360.13,539.3) scale(0.9639,1)" font-size="8.3" text-anchor="middle" >9</text>
<text transform="translate(381.33,539.3) scale(0.9639,1)" font-size="8.3" text-anchor="middle" >9</text>
<text transform="translate(402.52,539.3) scale(0.9639,1)" font-size="8.3" text-anchor="middle" >9</text>
<text transform="translate(423.72,539.3) scale(0.9639,1)" font-size="8.3" text-anchor="middle" >6</text>
<text transform="translate(444.91,539.3) scale(0.9639,1)" font-size="8.3" text-anchor="middle" >5</text>
<text transform="translate(466.11,539.3) scale(0.9639,1)" font-size="8.3" text-anchor="middle" >5</text>
<text transform="translate(487.3,539.3) scale(0.9639,1)" font-size="8.3" text-anchor="middle" >2</text>
<text transform="translate(508.5,539.3) scale(0.9639,1)" font-size="8.3" text-anchor="middle" >0</text>
<text transform="translate(6.9,550.95) scale(0.9277,1)" font-size="8.3" text-anchor="start" >Intermediate-2</text>
<text transform="translate(84.6,550.95) scale(0.9639,1)" font-size="8.3" text-anchor="middle" >71</text>
<text transform="translate(105.79,550.95) scale(0.9639,1)" font-size="8.3" text-anchor="middle" >68</text>
<text transform="translate(126.99,550.95) scale(0.9639,1)" font-size="8.3" text-anchor="middle" >69</text>
<text transform="translate(148.19,550.95) scale(0.9639,1)" font-size="8.3" text-anchor="middle" >66</text>
<text transform="translate(169.38,550.95) scale(0.9639,1)" font-size="8.3" text-anchor="middle" >63</text>
<text transform="translate(190.57,550.95) scale(0.9639,1)" font-size="8.3" text-anchor="middle" >55</text>
<text transform="translate(211.77,550.95) scale(0.9639,1)" font-size="8.3" text-anchor="middle" >32</text>
<text transform="translate(232.97,550.95) scale(0.9639,1)" font-size="8.3" text-anchor="middle" >23</text>
<text transform="translate(254.16,550.95) scale(0.9639,1)" font-size="8.3" text-anchor="middle" >17</text>
<text transform="translate(275.36,550.95) scale(0.9639,1)" font-size="8.3" text-anchor="middle" >9</text>
<text transform="translate(296.55,550.95) scale(0.9639,1)" font-size="8.3" text-anchor="middle" >8</text>
<text transform="translate(317.75,550.95) scale(0.9639,1)" font-size="8.3" text-anchor="middle" >7</text>
<text transform="translate(338.94,550.95) scale(0.9639,1)" font-size="8.3" text-anchor="middle" >7</text>
<text transform="translate(360.13,550.95) scale(0.9639,1)" font-size="8.3" text-anchor="middle" >7</text>
<text transform="translate(381.33,550.95) scale(0.9639,1)" font-size="8.3" text-anchor="middle" >7</text>
<text transform="translate(402.52,550.95) scale(0.9639,1)" font-size="8.3" text-anchor="middle" >6</text>
<text transform="translate(423.72,550.95) scale(0.9639,1)" font-size="8.3" text-anchor="middle" >4</text>
<text transform="translate(444.91,550.95) scale(0.9639,1)" font-size="8.3" text-anchor="middle" >3</text>
<text transform="translate(466.11,550.95) scale(0.9639,1)" font-size="8.3" text-anchor="middle" >1</text>
<text transform="translate(487.3,550.95) scale(0.9639,1)" font-size="8.3" text-anchor="middle" >0</text>
<text transform="translate(6.9,562.6) scale(0.9277,1)" font-size="8.3" text-anchor="start" >High</text>
<text transform="translate(84.6,562.6) scale(0.9639,1)" font-size="8.3" text-anchor="middle" >17</text>
<text transform="translate(105.79,562.6) scale(0.9639,1)" font-size="8.3" text-anchor="middle" >16</text>
<text transform="translate(126.99,562.6) scale(0.9639,1)" font-size="8.3" text-anchor="middle" >16</text>
<text transform="translate(148.19,562.6) scale(0.9639,1)" font-size="8.3" text-anchor="middle" >14</text>
<text transform="translate(169.38,562.6) scale(0.9639,1)" font-size="8.3" text-anchor="middle" >14</text>
<text transform="translate(190.57,562.6) scale(0.9639,1)" font-size="8.3" text-anchor="middle" >13</text>
<text transform="translate(211.77,562.6) scale(0.9639,1)" font-size="8.3" text-anchor="middle" >12</text>
<text transform="translate(232.97,562.6) scale(0.9639,1)" font-size="8.3" text-anchor="middle" >6</text>
<text transform="translate(254.16,562.6) scale(0.9639,1)" font-size="8.3" text-anchor="middle" >5</text>
<text transform="translate(275.36,562.6) scale(0.9639,1)" font-size="8.3" text-anchor="middle" >5</text>
<text transform="translate(296.55,562.6) scale(0.9639,1)" font-size="8.3" text-anchor="middle" >3</text>
<text transform="translate(317.75,562.6) scale(0.9639,1)" font-size="8.3" text-anchor="middle" >3</text>
<text transform="translate(338.94,562.6) scale(0.9639,1)" font-size="8.3" text-anchor="middle" >3</text>
<text transform="translate(360.13,562.6) scale(0.9639,1)" font-size="8.3" text-anchor="middle" >3</text>
<text transform="translate(381.33,562.6) scale(0.9639,1)" font-size="8.3" text-anchor="middle" >2</text>
<text transform="translate(402.52,562.6) scale(0.9639,1)" font-size="8.3" text-anchor="middle" >2</text>
<text transform="translate(423.72,562.6) scale(0.9639,1)" font-size="8.3" text-anchor="middle" >1</text>
<text transform="translate(444.91,562.6) scale(0.9639,1)" font-size="8.3" text-anchor="middle" >0</text>
<text x="282.5" y="575.5" font-size="9.4" text-anchor="middle" textLength="85.8" lengthAdjust="spacingAndGlyphs" class="ct">Survival estimate % (95% CI)</text>
<text transform="translate(141.9,588) scale(0.9277,1)" font-size="8.3" text-anchor="middle" >Events</text>
<text transform="translate(222.3,588.9) scale(0.9277,1)" font-size="8.3" text-anchor="middle" >Month 6</text>
<text transform="translate(318.6,588.9) scale(0.9277,1)" font-size="8.3" text-anchor="middle" >Month 12</text>
<text transform="translate(409.8,588.9) scale(0.9277,1)" font-size="8.3" text-anchor="middle" >Month 24</text>
<text transform="translate(6.9,597.7) scale(0.9277,1)" font-size="8.3" text-anchor="start" >Intermediate-1 (N = 36)</text>
<text transform="translate(141.9,597.7) scale(0.9639,1)" font-size="8.3" text-anchor="middle" >9</text>
<text transform="translate(222.3,597.7) scale(0.9639,1)" font-size="8.3" text-anchor="middle" >100.0 (100.0–100.0)</text>
<text transform="translate(318.6,597.7) scale(0.9639,1)" font-size="8.3" text-anchor="middle" >97.1 (80.9–99.6)</text>
<text transform="translate(409.8,597.7) scale(0.9639,1)" font-size="8.3" text-anchor="middle" >80.2 (61.0–90.7)</text>
<text transform="translate(6.9,610.1) scale(0.9277,1)" font-size="8.3" text-anchor="start" >Intermediate-2 (N = 71)</text>
<text transform="translate(141.9,610.1) scale(0.9639,1)" font-size="8.3" text-anchor="middle" >14</text>
<text transform="translate(222.3,610.1) scale(0.9639,1)" font-size="8.3" text-anchor="middle" >97.2 (89.2–99.3)</text>
<text transform="translate(318.6,610.1) scale(0.9639,1)" font-size="8.3" text-anchor="middle" >92.9 (83.7–97.0)</text>
<text transform="translate(409.8,610.1) scale(0.9639,1)" font-size="8.3" text-anchor="middle" >79.8 (63.6–89.4)</text>
<text transform="translate(6.9,622.5) scale(0.9277,1)" font-size="8.3" text-anchor="start" >High (N = 17)</text>
<text transform="translate(141.9,622.5) scale(0.9639,1)" font-size="8.3" text-anchor="middle" >6</text>
<text transform="translate(222.3,622.5) scale(0.9639,1)" font-size="8.3" text-anchor="middle" >94.1 (65.0–99.1)</text>
<text transform="translate(318.6,622.5) scale(0.9639,1)" font-size="8.3" text-anchor="middle" >82.4 (54.7–93.9)</text>
<text transform="translate(409.8,622.5) scale(0.9639,1)" font-size="8.3" text-anchor="middle" >82.4 (54.7–93.9)</text>
</svg>
</body></html>
